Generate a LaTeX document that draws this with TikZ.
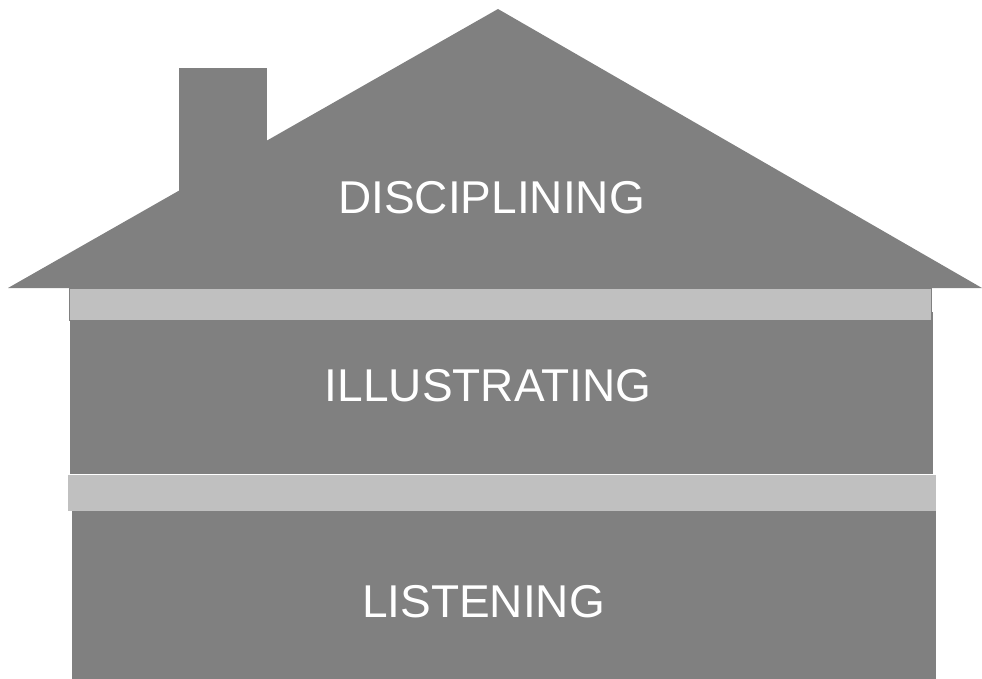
\documentclass[tikz,border=0pt]{standalone}
\usepackage{fontspec}
\setmainfont{Liberation Sans}
\usepackage{xcolor}
\usepackage{tikz}
\usetikzlibrary{positioning}
\definecolor{wallgray}{HTML}{808080}
\definecolor{beamgray}{HTML}{C0C0C0}

\begin{document}
\begin{tikzpicture}[x=1pt,y=-1pt,font=\fontsize{46}{50}\selectfont,
  lbl/.style={text=white,inner sep=0pt,anchor=center},
  beam/.style={fill=beamgray}]
\useasboundingbox (0,0) rectangle (982,679);
% roof and chimney
\fill[wallgray] (179,68) rectangle (267,200);
\fill[wallgray] (8,288) -- (498,9) -- (982,288) -- cycle;
% walls
\fill[wallgray] (70,312) rectangle (933,474);
\fill[wallgray] (72,511) rectangle (936,679);
% beams
\fill[beam,draw=wallgray,line width=1pt] (69.5,288) rectangle (931.5,320);
\fill[beam] (68,475) rectangle (936,511);
\node[lbl] (top) at (491.5,197.5) {DISCIPLINING};
\node[lbl] (mid) at (488,386) {ILLUSTRATING};
\node[lbl] (bot) at (483.5,602) {LISTENING};
\end{tikzpicture}
\end{document}
